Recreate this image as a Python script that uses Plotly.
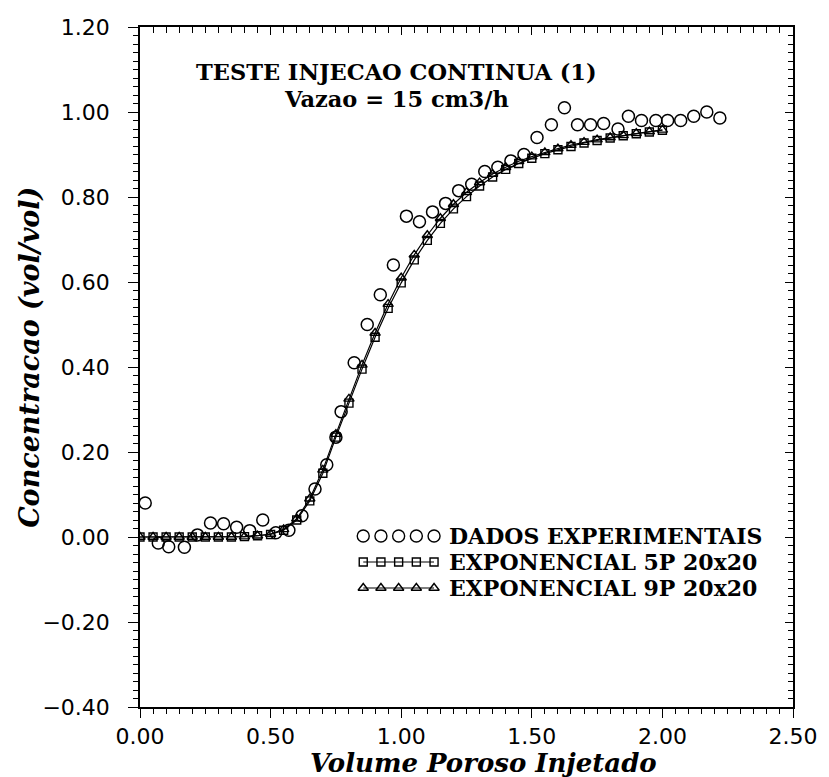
import plotly.graph_objects as go

# ---------------- data ----------------
exp_x = [0.02, 0.07, 0.11, 0.17, 0.22, 0.27, 0.32, 0.37, 0.42, 0.47, 0.52, 0.57,
         0.62, 0.67, 0.715, 0.75, 0.77, 0.82, 0.87, 0.92, 0.97, 1.02, 1.07, 1.12,
         1.17, 1.22, 1.27, 1.32, 1.37, 1.42, 1.47, 1.52, 1.575, 1.625, 1.675, 1.725,
         1.775, 1.83, 1.87, 1.92, 1.975, 2.02, 2.07, 2.12, 2.17, 2.22]
exp_y = [0.08, -0.014, -0.023, -0.024, 0.005, 0.033, 0.031, 0.023, 0.015, 0.040, 0.010, 0.016,
         0.050, 0.113, 0.170, 0.235, 0.295, 0.410, 0.500, 0.570, 0.640, 0.755, 0.742, 0.765,
         0.785, 0.815, 0.830, 0.860, 0.870, 0.885, 0.900, 0.940, 0.970, 1.010, 0.970, 0.970,
         0.973, 0.960, 0.990, 0.980, 0.980, 0.980, 0.980, 0.990, 1.000, 0.986]

model_x = [0.00, 0.05, 0.10, 0.15, 0.20, 0.25, 0.30, 0.35, 0.40, 0.45, 0.50, 0.55,
           0.60, 0.65, 0.70, 0.75, 0.80, 0.85, 0.90, 0.95, 1.00, 1.05, 1.10, 1.15,
           1.20, 1.25, 1.30, 1.35, 1.40, 1.45, 1.50, 1.55, 1.60, 1.65, 1.70, 1.75,
           1.80, 1.85, 1.90, 1.95, 2.00]
exp5p_y = [0.000, 0.000, 0.000, 0.000, 0.000, 0.000, 0.000, 0.000, 0.001, 0.003, 0.006, 0.016,
           0.040, 0.085, 0.150, 0.235, 0.315, 0.395, 0.470, 0.538, 0.598, 0.652, 0.698, 0.738,
           0.772, 0.801, 0.826, 0.847, 0.865, 0.879, 0.891, 0.902, 0.911, 0.919, 0.927, 0.933,
           0.939, 0.944, 0.949, 0.953, 0.957]
exp9p_y = [0.000, 0.000, 0.000, 0.000, 0.000, 0.000, 0.000, 0.000, 0.001, 0.003, 0.007, 0.018,
           0.043, 0.090, 0.158, 0.242, 0.325, 0.405, 0.480, 0.548, 0.610, 0.664, 0.710, 0.750,
           0.783, 0.811, 0.834, 0.854, 0.870, 0.884, 0.895, 0.905, 0.914, 0.922, 0.929, 0.935,
           0.940, 0.945, 0.950, 0.954, 0.958]

x_tickvals = [0.0, 0.5, 1.0, 1.5, 2.0, 2.5]
x_ticktext = ["0.00", "0.50", "1.00", "1.50", "2.00", "2.50"]
y_tickvals = [-0.4, -0.2, 0.0, 0.2, 0.4, 0.6, 0.8, 1.0, 1.2]
y_ticktext = ["\u22120.40", "\u22120.20", "0.00", "0.20", "0.40", "0.60", "0.80", "1.00", "1.20"]

title_lines = ["TESTE INJECAO CONTINUA (1)", "Vazao = 15 cm3/h"]
legend_names = ["DADOS EXPERIMENTAIS", "EXPONENCIAL 5P 20x20", "EXPONENCIAL 9P 20x20"]
x_title = "Volume Poroso Injetado"
y_title = "Concentracao (vol/vol)"

# ---------------- layout constants ----------------
W, H = 829, 777
L, R, T, B = 140, 804, 27, 707   # plot area in pixels
TXT = "DejaVu Serif"
SERIF = "DejaVu Serif"
SANS = "DejaVu Sans"


def px(xp):
    return (xp - L) / (R - L)


def py(yp):
    return (B - yp) / (B - T)


fig = go.Figure()

# main series
fig.add_trace(go.Scatter(x=model_x, y=exp5p_y, mode="lines+markers",
                         line=dict(color="black", width=1.2),
                         marker=dict(symbol="square-open", size=8, color="black",
                                     line=dict(width=1.4, color="black")),
                         showlegend=False))
fig.add_trace(go.Scatter(x=model_x, y=exp9p_y, mode="lines+markers",
                         line=dict(color="black", width=1.2),
                         marker=dict(symbol="triangle-up-open", size=9, color="black",
                                     line=dict(width=1.4, color="black")),
                         showlegend=False))
fig.add_trace(go.Scatter(x=exp_x, y=exp_y, mode="markers",
                         marker=dict(symbol="circle-open", size=12, color="black",
                                     line=dict(width=1.5, color="black")),
                         showlegend=False))

# custom legend keys on a pixel-space overlay axis
key_x = [367, 385, 403, 421, 439]
rows_y = [536, 562, 588]
key_styles = [("markers", "circle-open", 12), ("lines+markers", "square-open", 8),
              ("lines+markers", "triangle-up-open", 9)]
for (mode, sym, sz), ry in zip(key_styles, rows_y):
    fig.add_trace(go.Scatter(x=key_x, y=[ry] * len(key_x), mode=mode, xaxis="x3", yaxis="y3",
                             line=dict(color="black", width=1.2),
                             marker=dict(symbol=sym, size=sz, color="black",
                                         line=dict(width=1.4, color="black")),
                             showlegend=False, hoverinfo="skip"))

annotations = []
for name, ry in zip(legend_names, rows_y):
    annotations.append(dict(x=px(452), y=py(ry), xref="paper", yref="paper", text=name,
                            showarrow=False, xanchor="left", yanchor="middle",
                            font=dict(family=TXT, size=22, color="black", weight="bold")))
for line, ty in zip(title_lines, [72, 99]):
    annotations.append(dict(x=px(401), y=py(ty), xref="paper", yref="paper", text=line,
                            showarrow=False, xanchor="center", yanchor="middle",
                            font=dict(family=TXT, size=22.5, color="black", weight="bold")))
annotations.append(dict(x=px(489), y=py(763), xref="paper", yref="paper", text=x_title,
                        showarrow=False, xanchor="center", yanchor="middle",
                        font=dict(family=SERIF, size=26, color="black", style="italic",
                                  weight="bold")))
annotations.append(dict(x=px(27), y=py(357), xref="paper", yref="paper", text=y_title,
                        showarrow=False, textangle=-90, xanchor="center", yanchor="middle",
                        font=dict(family=SERIF, size=27, color="black", style="italic",
                                  weight="bold")))

tickfont = dict(family=SANS, size=22, color="black")
fig.update_layout(
    width=W, height=H,
    margin=dict(l=L, r=W - R, t=T, b=H - B),
    paper_bgcolor="white", plot_bgcolor="white",
    showlegend=False,
    annotations=annotations,
    xaxis=dict(range=[0, 2.5], tickvals=x_tickvals, ticktext=x_ticktext,
               ticks="outside", ticklen=9, tickwidth=1.3, tickcolor="black",
               minor=dict(dtick=0.05, tick0=0, ticks="outside", ticklen=5,
                          tickwidth=1, tickcolor="black"),
               showline=True, linecolor="black", linewidth=1.5, showgrid=False,
               zeroline=False, tickfont=tickfont, ticklabelstandoff=0),
    yaxis=dict(range=[-0.4, 1.2], tickvals=y_tickvals, ticktext=y_ticktext,
               ticks="outside", ticklen=10, tickwidth=1.3, tickcolor="black",
               minor=dict(dtick=0.02, tick0=0, ticks="outside", ticklen=5,
                          tickwidth=1, tickcolor="black"),
               showline=True, linecolor="black", linewidth=1.5, showgrid=False,
               zeroline=False, tickfont=tickfont, ticklabelstandoff=14),
    xaxis2=dict(range=[0, 2.5], overlaying="x", side="top", anchor="y",
                tickvals=x_tickvals, showticklabels=False,
                ticks="inside", ticklen=8, tickwidth=1.3, tickcolor="black",
                minor=dict(dtick=0.05, tick0=0, ticks="inside", ticklen=6,
                           tickwidth=1, tickcolor="black"),
                showline=True, linecolor="black", linewidth=1.5, showgrid=False,
                zeroline=False),
    yaxis2=dict(range=[-0.4, 1.2], overlaying="y", side="right", anchor="x",
                tickvals=y_tickvals, showticklabels=False,
                ticks="inside", ticklen=8, tickwidth=1.3, tickcolor="black",
                minor=dict(dtick=0.02, tick0=0, ticks="inside", ticklen=5,
                           tickwidth=1, tickcolor="black"),
                showline=True, linecolor="black", linewidth=1.5, showgrid=False,
                zeroline=False),
    xaxis3=dict(range=[L, R], overlaying="x", visible=False, fixedrange=True),
    yaxis3=dict(range=[B, T], overlaying="y", visible=False, fixedrange=True),
)
# dummy trace to activate the mirrored top/right axes
fig.add_trace(go.Scatter(x=[None], y=[None], xaxis="x2", yaxis="y2", showlegend=False))

fig.write_html("out.html", config={"displayModeBar": False},
               post_script="document.body.style.margin='0';"
                           "document.body.style.overflow='hidden';")
